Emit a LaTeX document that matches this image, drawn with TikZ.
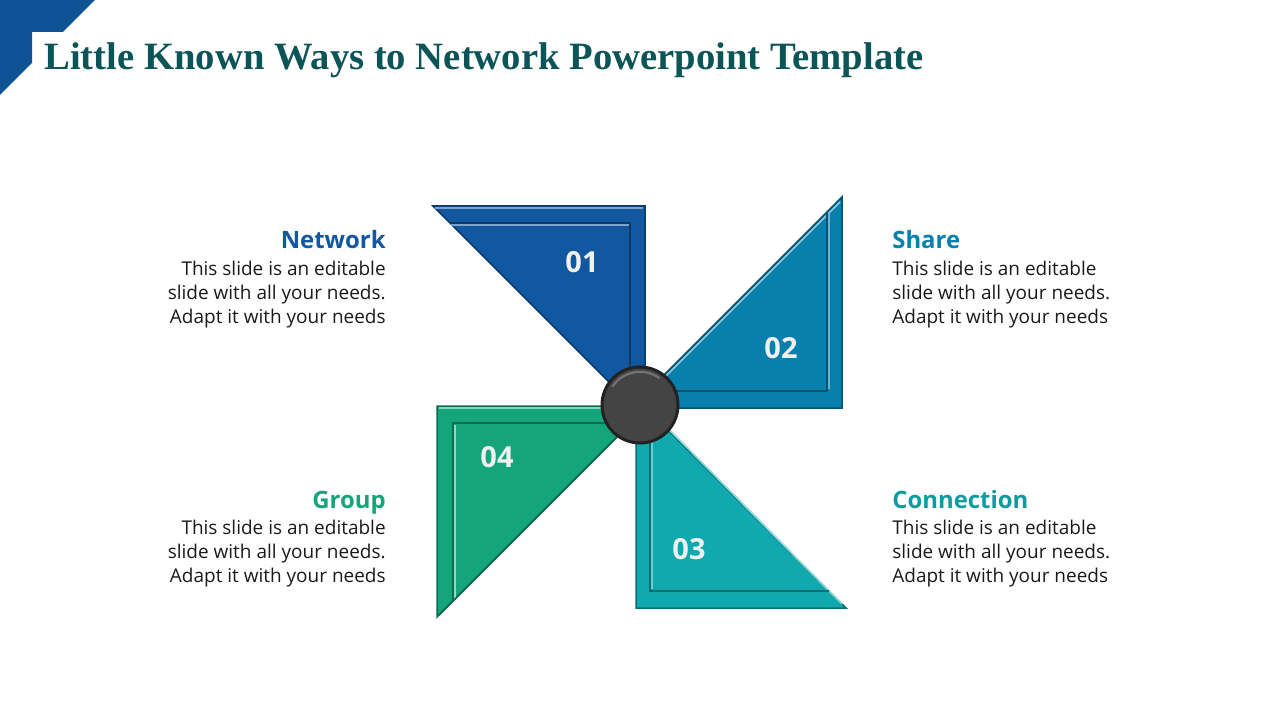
\documentclass[tikz,border=0pt]{standalone}
\usepackage{fontspec}
\setmainfont{Open Sans}
\newfontfamily\titlefont{Liberation Serif}
\usetikzlibrary{calc}

\definecolor{cornerblue}{HTML}{0F5296}
\definecolor{titleteal}{HTML}{0B5457}
\definecolor{netblue}{HTML}{1258A0}
\definecolor{shareblue}{HTML}{0780AE}
\definecolor{connteal}{HTML}{0FA9AE}
\definecolor{groupgreen}{HTML}{14A67A}
\definecolor{bodytext}{HTML}{1A1A1A}
\definecolor{hubgray}{HTML}{444444}

\begin{document}
\begin{tikzpicture}[x=0.2mm, y=-0.2mm,
  rim/.style={line width=0.3mm, line join=miter},
  lit/.style={line width=0.35mm},
  num/.style={font=\bfseries\fontsize{16.5}{18}\selectfont, text=white!94!black, inner sep=0pt},
  head/.style={font=\bfseries\fontsize{13.6}{15}\selectfont, inner sep=0pt},
  body/.style={font=\fontsize{10.8}{13.66}\selectfont, text=bodytext, inner sep=0pt},
]
  \useasboundingbox (0,0) rectangle (1280,720);

  % Corner mark and title
  \fill[cornerblue] (0,0) -- (95,0) -- (63,32) -- (32,32) -- (32,63) -- (0,95) -- cycle;
  \node[anchor=base west, inner sep=0pt, text=titleteal,
        font=\titlefont\bfseries\fontsize{22}{26}\selectfont] (title) at (44,70)
    {Little Known Ways to Network Powerpoint Template};

  % Blade 01
  \fill[netblue] (433,206) -- (645,206) -- (645,418) -- cycle;
  \draw[rim, netblue!65!black] (433,206) -- (645,206) -- (645,418) -- cycle;
  \draw[lit, netblue!55!white] (435,208) -- (643,208);
  \draw[lit, netblue!55!white] (451,225) -- (629,225);
  \draw[lit, netblue!65!black] (451,223) -- (630,223) -- (630,404);

  % Blade 02
  \fill[shareblue] (842,197) -- (842,408) -- (631,408) -- cycle;
  \draw[rim, shareblue!65!black] (842,197) -- (842,408) -- (631,408) -- cycle;
  \draw[lit, shareblue!45!white] (840,202) -- (636,406);
  \draw[lit, shareblue!65!black] (827,212) -- (827,391) -- (648,391);
  \draw[lit, shareblue!60!white] (829,214) -- (829,389);

  % Blade 03
  \fill[connteal] (636,608) -- (846,608) -- (636,398) -- cycle;
  \draw[rim, connteal!65!black] (636,608) -- (846,608) -- (636,398) -- cycle;
  \draw[lit, connteal!45!white] (640,400) -- (842,604);
  \draw[lit, connteal!65!black] (650,412) -- (650,591) -- (829,591);
  \draw[lit, connteal!60!white] (652,414) -- (652,589);

  % Blade 04
  \fill[groupgreen] (437,406) -- (648,406) -- (437,617) -- cycle;
  \draw[rim, groupgreen!65!black] (437,406) -- (648,406) -- (437,617) -- cycle;
  \draw[lit, groupgreen!50!white] (439,408) -- (644,408);
  \draw[lit, groupgreen!65!black] (631,423) -- (453,423) -- (453,601);
  \draw[lit, groupgreen!45!white] (455,425) -- (455,599);
  \draw[lit, groupgreen!65!black] (646,408) -- (439,615);

  % Hub
  \node[circle, minimum size=15.2mm, inner sep=0pt, fill=hubgray,
        draw=hubgray!50!black, line width=0.6mm] (hub) at (640,405) {};
  \draw[white!25!hubgray, line width=0.45mm, line cap=round]
    ($(hub.center)!0.84!(hub.145)$) to[bend left=45] ($(hub.center)!0.84!(hub.55)$);

  % Blade numbers
  \node[num] (n1) at (582,262) {01};
  \node[num] (n2) at (781,348) {02};
  \node[num] (n3) at (689,549) {03};
  \node[num] (n4) at (497,457) {04};

  % Text blocks
  \node[head, text=netblue, anchor=base east] (hnet) at (386,249) {Network};
  \node[body, align=right, anchor=north east] (bnet) at (386,261)
    {This slide is an editable\\slide with all your needs.\\Adapt it with your needs};

  \node[head, text=shareblue, anchor=base west] (hshare) at (892,249) {Share};
  \node[body, align=left, anchor=north west] (bshare) at (892,261)
    {This slide is an editable\\slide with all your needs.\\Adapt it with your needs};

  \node[head, text=groupgreen, anchor=base east] (hgroup) at (386,508) {Group};
  \node[body, align=right, anchor=north east] (bgroup) at (386,520)
    {This slide is an editable\\slide with all your needs.\\Adapt it with your needs};

  \node[head, text=connteal!92!black, anchor=base west] (hconn) at (892,508) {Connection};
  \node[body, align=left, anchor=north west] (bconn) at (892,520)
    {This slide is an editable\\slide with all your needs.\\Adapt it with your needs};
\end{tikzpicture}
\end{document}
